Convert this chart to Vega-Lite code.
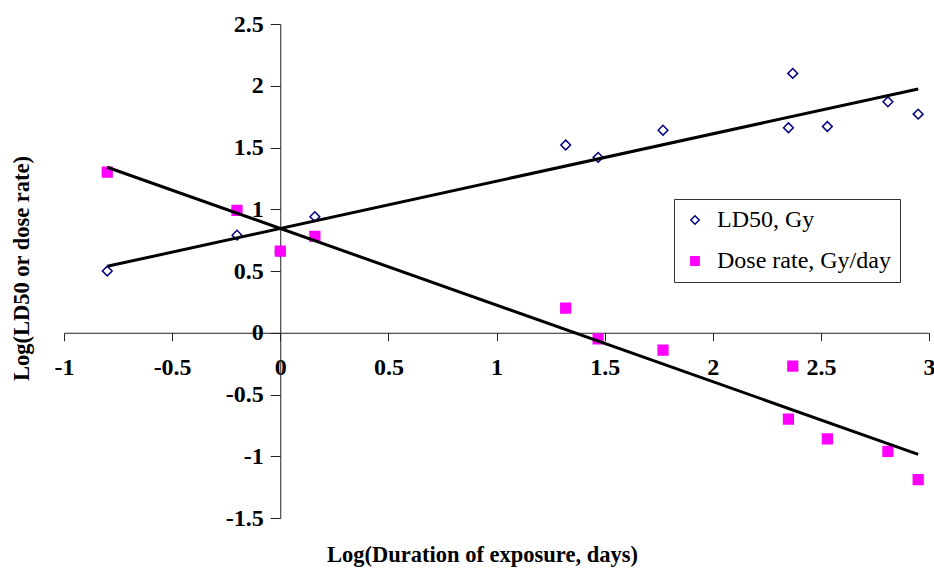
{
  "$schema": "https://vega.github.io/schema/vega-lite/v6.json",
  "autosize": {"type": "none"},
  "width": 865,
  "height": 494,
  "padding": {"left": 64, "top": 24, "right": 5, "bottom": 53},
  "background": "white",
  "config": {
    "view": {"stroke": null},
    "axis": {
      "grid": false,
      "domainColor": "#222222",
      "tickColor": "#222222",
      "domainWidth": 1,
      "tickWidth": 1,
      "labelFont": "Liberation Serif",
      "labelFontWeight": "bold",
      "labelFontSize": 24,
      "labelColor": "#000000",
      "titleFont": "Liberation Serif",
      "titleFontWeight": "bold",
      "titleFontSize": 22.5,
      "titleColor": "#000000",
      "labelOverlap": false,
      "labelFlush": false,
      "labelBound": false
    },
    "legend": {
      "orient": "none",
      "legendX": 610,
      "legendY": 175,
      "strokeColor": "#333333",
      "fillColor": "#ffffff",
      "padding": 9,
      "rowPadding": 17,
      "labelFont": "Liberation Serif",
      "labelFontSize": 24,
      "labelColor": "#000000",
      "labelLimit": 0,
      "labelOffset": 10,
      "symbolSize": 70,
      "symbolStrokeWidth": 1.5,
      "title": null
    }
  },
  "data": {
    "values": [
      {"x": -0.8, "series": "LD50, Gy", "y": 0.50},
      {"x": -0.2, "series": "LD50, Gy", "y": 0.79},
      {"x": 0.0, "series": "LD50, Gy", "y": 0.66},
      {"x": 0.16, "series": "LD50, Gy", "y": 0.94},
      {"x": 1.32, "series": "LD50, Gy", "y": 1.52},
      {"x": 1.47, "series": "LD50, Gy", "y": 1.42},
      {"x": 1.77, "series": "LD50, Gy", "y": 1.64},
      {"x": 2.35, "series": "LD50, Gy", "y": 1.66},
      {"x": 2.37, "series": "LD50, Gy", "y": 2.10},
      {"x": 2.53, "series": "LD50, Gy", "y": 1.67},
      {"x": 2.81, "series": "LD50, Gy", "y": 1.87},
      {"x": 2.95, "series": "LD50, Gy", "y": 1.77},
      {"x": -0.8, "series": "Dose rate, Gy/day", "y": 1.30},
      {"x": -0.2, "series": "Dose rate, Gy/day", "y": 0.99},
      {"x": 0.0, "series": "Dose rate, Gy/day", "y": 0.66},
      {"x": 0.16, "series": "Dose rate, Gy/day", "y": 0.78},
      {"x": 1.32, "series": "Dose rate, Gy/day", "y": 0.20},
      {"x": 1.47, "series": "Dose rate, Gy/day", "y": -0.05},
      {"x": 1.77, "series": "Dose rate, Gy/day", "y": -0.14},
      {"x": 2.35, "series": "Dose rate, Gy/day", "y": -0.70},
      {"x": 2.37, "series": "Dose rate, Gy/day", "y": -0.27},
      {"x": 2.53, "series": "Dose rate, Gy/day", "y": -0.86},
      {"x": 2.81, "series": "Dose rate, Gy/day", "y": -0.96},
      {"x": 2.95, "series": "Dose rate, Gy/day", "y": -1.19}
    ]
  },
  "encoding": {
    "x": {
      "field": "x",
      "type": "quantitative",
      "scale": {"domain": [-1, 3], "nice": false, "zero": false},
      "axis": {
        "title": "Log(Duration of exposure, days)",
        "values": [-1, -0.5, 0, 0.5, 1, 1.5, 2, 2.5, 3],
        "labelExpr": "'' + datum.value",
        "offset": -185.25,
        "tickSize": 8,
        "labelPadding": 15,
        "titleX": 418,
        "titleY": 229,
        "titleAlign": "center",
        "titleBaseline": "alphabetic",
        "titleAnchor": null
      }
    },
    "y": {
      "field": "y",
      "type": "quantitative",
      "scale": {"domain": [-1.5, 2.5], "nice": false, "zero": false},
      "axis": {
        "title": "Log(LD50 or dose rate)",
        "values": [-1.5, -1, -0.5, 0, 0.5, 1, 1.5, 2, 2.5],
        "labelExpr": "'' + datum.value",
        "offset": -216.25,
        "tickSize": 10,
        "labelPadding": 7,
        "titleX": -252,
        "titleY": 244,
        "titleAngle": -90,
        "titleAlign": "center",
        "titleBaseline": "alphabetic",
        "titleAnchor": null
      }
    }
  },
  "layer": [
    {
      "mark": {"type": "point", "strokeWidth": 1.5, "opacity": 1, "size": 95},
      "encoding": {
        "shape": {
          "field": "series",
          "type": "nominal",
          "scale": {"domain": ["LD50, Gy", "Dose rate, Gy/day"], "range": ["diamond", "square"]}
        },
        "stroke": {
          "field": "series",
          "type": "nominal",
          "scale": {"domain": ["LD50, Gy", "Dose rate, Gy/day"], "range": ["#000080", "#FF00FF"]}
        },
        "fill": {
          "field": "series",
          "type": "nominal",
          "scale": {"domain": ["LD50, Gy", "Dose rate, Gy/day"], "range": ["transparent", "#FF00FF"]}
        }
      }
    },
    {
      "transform": [{"regression": "y", "on": "x", "groupby": ["series"]}],
      "mark": {"type": "line", "color": "#000000", "strokeWidth": 3},
      "encoding": {
        "detail": {"field": "series", "type": "nominal"}
      }
    }
  ]
}
